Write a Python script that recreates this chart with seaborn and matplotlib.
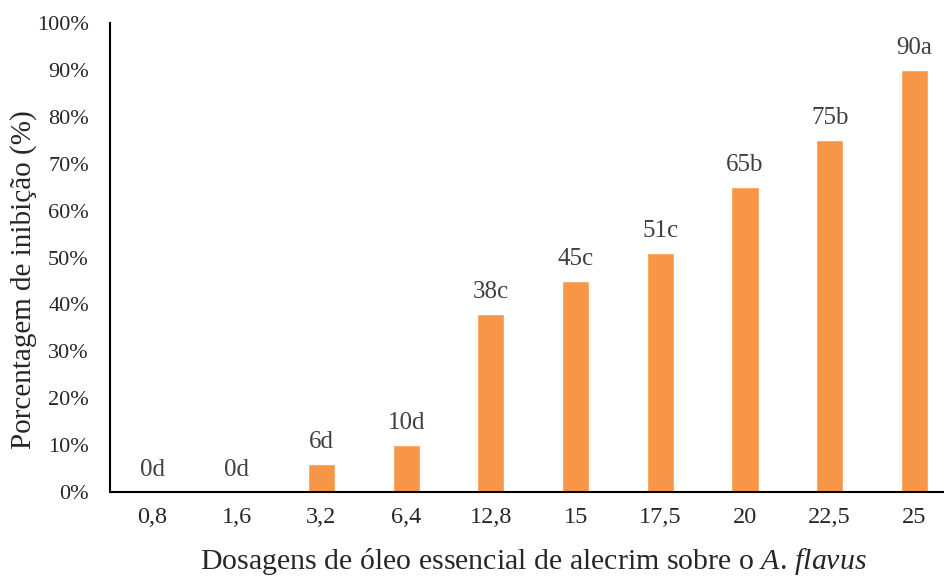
import matplotlib
matplotlib.use("Agg")
import matplotlib.pyplot as plt
import seaborn as sns
import pandas as pd

dosagens = ["0,8", "1,6", "3,2", "6,4", "12,8", "15", "17,5", "20", "22,5", "25"]
inibicao = [0, 0, 6, 10, 38, 45, 51, 65, 75, 90]
letras = ["d", "d", "d", "d", "c", "c", "c", "b", "b", "a"]

sns.set_style("white")
plt.rcParams["font.family"] = ["Liberation Serif", "DejaVu Serif"]
plt.rcParams["mathtext.fontset"] = "custom"
plt.rcParams["mathtext.rm"] = "Liberation Serif"
plt.rcParams["mathtext.it"] = "Liberation Serif:italic"
plt.rcParams["xtick.labelsize"] = 17.5
plt.rcParams["ytick.labelsize"] = 16
plt.rcParams["xtick.major.pad"] = 11
plt.rcParams["ytick.major.pad"] = 15
plt.rcParams["xtick.major.size"] = 0
plt.rcParams["ytick.major.size"] = 0

df = pd.DataFrame({"dose": dosagens, "inib": inibicao, "letra": letras})

fig = plt.figure(figsize=(9.45, 5.76), dpi=100)
ax = fig.add_axes([0.1161, 0.1458, 0.8963, 0.8142])

sns.barplot(data=df, x="dose", y="inib", order=dosagens, color="#F79646",
            saturation=1, width=0.32, ax=ax)

for i, (v, l) in enumerate(zip(inibicao, letras)):
    ax.annotate(f"{v}{l}", (i, v), xytext=(0, 8), textcoords="offset points",
                ha="center", va="bottom", fontsize=18, color="#404040")

ax.set_ylim(0, 100)
ax.set_yticks(range(0, 101, 10))
ax.set_yticklabels([f"{t}%" for t in range(0, 101, 10)])
ax.set_xticks(range(len(dosagens)))
ax.set_xticklabels(dosagens)

ax.set_xlabel(r"Dosagens de óleo essencial de alecrim sobre o $\mathit{A.}\,\mathit{flavus}$",
              fontsize=21.5, labelpad=13)
ax.set_ylabel("Porcentagem de inibição (%)", fontsize=21)
ax.yaxis.set_label_coords(-0.086, 0.452)

for s in ["top", "right"]:
    ax.spines[s].set_visible(False)
for s in ["left", "bottom"]:
    ax.spines[s].set_color("black")
    ax.spines[s].set_linewidth(1.5)

fig.savefig("out.png", dpi=100)
